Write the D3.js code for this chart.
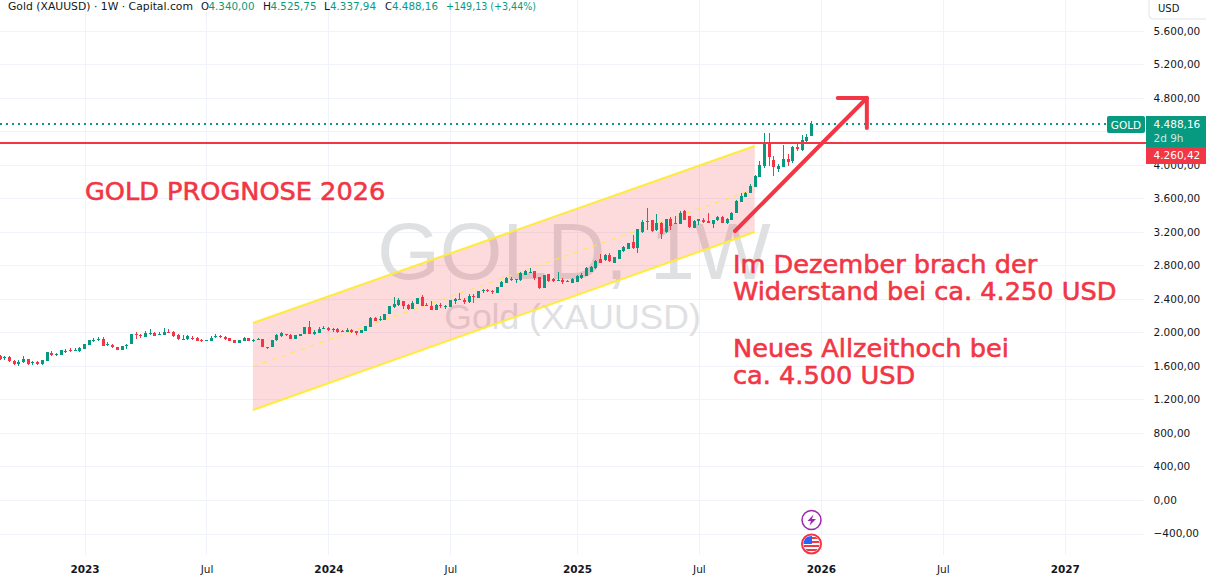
<!DOCTYPE html>
<html><head><meta charset="utf-8">
<script src="https://cdn.jsdelivr.net/npm/d3@7/dist/d3.min.js"></script>
<style>html,body{margin:0;padding:0;background:#fff;overflow:hidden}svg{display:block}</style>
</head><body><svg id="c" width="1206" height="580"></svg>
<script>
const opens=[1723,1691,1703,1659,1627,1643,1679,1635,1647,1619,1659,1751,1731,1727,1775,1791,1779,1775,1799,1847,1907,1911,1919,1855,1847,1823,1787,1847,1859,1983,1971,1943,1979,1991,1971,1967,1999,2003,1967,1919,1919,1939,1939,1907,1907,1903,1951,1959,1943,1931,1907,1871,1895,1931,
1892,1912,1916,1828,1820,1904,1952,1984,1972,1916,1952,1976,2060,1984,1988,2036,2048,2024,2036,2012,2000,2024,2012,1988,2012,2060,2168,2144,2144,2216,2300,2324,2372,2324,2276,2336,2420,2324,2312,2264,2324,2300,2300,2372,2404,2384,2360,2440,2408,2492,2504,
2490,2474,2546,2594,2642,2630,2626,2690,2718,2730,2666,2534,2694,2638,2618,2630,2618,2594,2606,2650,2678,2726,2766,2870,2858,2918,2834,2870,2970,2990,3074,3006,3198,3326,3338,3218,3310,3198,3350,3290,3290,3446,3386,3250,3326,
3343,3327,3295,3339,3379,3307,3343,3427,3559,3619,3667,3739,3859,3991,4243,4063,3955,3979,4075,4051,4207,4171,4279,4340];
const highs=[1731,1715,1723,1671,1667,1715,1687,1659,1655,1667,1763,1775,1755,1787,1803,1811,1811,1823,1859,1907,1935,1943,1943,1883,1859,1831,1843,1859,1979,2007,1983,2011,2039,2003,1999,2051,2039,2015,1979,1967,1967,1955,1943,1919,1915,1951,1979,1967,1955,1931,1907,1907,1943,1931,
1916,1928,1916,1828,1912,1984,2000,1984,1976,1964,1984,2060,2132,2024,2060,2072,2060,2048,2048,2024,2048,2036,2012,2024,2072,2180,2180,2192,2216,2312,2420,2408,2372,2336,2372,2408,2444,2348,2372,2336,2348,2324,2384,2408,2468,2408,2456,2456,2492,2516,2516,
2510,2538,2618,2666,2658,2638,2718,2746,2774,2738,2666,2690,2698,2646,2718,2650,2630,2646,2686,2706,2778,2798,2866,2930,2938,2942,2902,2978,3030,3070,3158,3238,3346,3490,3346,3418,3318,3358,3378,3386,3446,3458,3394,3346,3358,
3363,3427,3339,3391,3391,3367,3439,3583,3667,3679,3775,3883,4051,4375,4375,4099,4015,4231,4123,4219,4243,4351,4363,4525.75];
const lows=[1675,1675,1643,1615,1595,1635,1615,1611,1615,1607,1659,1723,1715,1727,1755,1763,1775,1771,1799,1847,1887,1895,1835,1835,1811,1787,1787,1803,1859,1919,1931,1943,1967,1955,1967,1967,1991,1947,1915,1919,1915,1907,1895,1883,1899,1895,1931,1931,1915,1895,1871,1871,1895,1895,
1880,1904,1820,1796,1820,1892,1940,1952,1916,1916,1952,1976,1976,1964,1988,2036,2012,2000,1988,2000,2000,1996,1964,1988,2012,2060,2132,2132,2144,2216,2288,2312,2276,2264,2276,2336,2312,2312,2264,2264,2288,2276,2300,2336,2384,2336,2348,2348,2408,2468,2480,
2458,2474,2538,2586,2610,2586,2618,2690,2718,2626,2518,2534,2598,2598,2610,2578,2598,2586,2598,2638,2678,2718,2758,2826,2850,2838,2834,2870,2958,2990,2998,2946,3190,3218,3198,3206,3110,3190,3226,3290,3290,3338,3246,3242,3278,
3307,3307,3247,3331,3307,3295,3343,3427,3559,3619,3667,3739,3859,3967,3991,3871,3919,3979,3991,4027,4159,4159,4267,4337.94];
const closes=[1687,1703,1655,1619,1647,1679,1619,1643,1619,1667,1763,1727,1739,1787,1783,1779,1787,1811,1859,1907,1915,1919,1835,1863,1827,1787,1843,1855,1979,1975,1959,1991,1987,1955,1979,2003,1991,1955,1919,1927,1959,1931,1895,1895,1915,1939,1959,1947,1923,1895,1871,1907,1931,1895,
1904,1920,1820,1808,1912,1964,1988,1976,1916,1964,1984,2060,1976,2000,2036,2048,2024,2036,2000,2000,2024,2000,1988,2024,2072,2168,2132,2156,2216,2312,2336,2384,2312,2276,2348,2408,2312,2312,2264,2324,2312,2312,2384,2396,2392,2360,2432,2424,2492,2504,2492,
2482,2538,2606,2646,2630,2638,2706,2738,2726,2646,2530,2690,2610,2610,2630,2598,2606,2634,2674,2690,2766,2786,2850,2834,2918,2846,2902,2978,3018,3070,3006,3230,3314,3314,3210,3310,3178,3350,3266,3302,3430,3346,3254,3330,3350,
3319,3307,3339,3379,3307,3355,3427,3571,3631,3667,3751,3871,4003,4243,4087,3979,3991,4075,4039,4207,4183,4291,4327,4488.16];

const priceTicks=[-400,0,400,800,1200,1600,2000,2400,2800,3200,3600,4000,4400,4800,5200,5600];
const hiddenPriceTicks=[4400];
const timeBars=[18,44,70,96,123,149,175,201,227];
const timeLabels=["2023","Jul","2024","Jul","2025","Jul","2026","Jul","2027"];
const lastPrice=4488.16, resistance=4260.42;
const channelBars=[53.9,160.9];
const channelTop=[2112,4224];
const channelBottom=[1074,3198];
const arrowBars=[156.7,184.8];
const arrowPrices=[3210,4797];
const arrowHeadBars=[178.6,184.8,184.8];
const arrowHeadPrices=[4797,4797,4440];
const headerParts=[["Gold (XAUUSD) · 1W · Capital.com",8,"#131722",185],["O",201,"#131722",8],["4.340,00",208.5,"#089981",46],["H",263,"#131722",8],["4.525,75",270.5,"#089981",46],["L",324,"#131722",6],["4.337,94",330,"#089981",46],["C",385,"#131722",7],["4.488,16",392,"#089981",46],["+149,13 (+3,44%)",446,"#089981",90]];
const noteLines=[["GOLD PROGNOSE 2026",85,200],["Im Dezember brach der",733,273],["Widerstand bei ca. 4.250 USD",733,300],["Neues Allzeithoch bei",733,357],["ca. 4.500 USD",733,384]];

const GREEN="#089981",RED="#f23645",YEL="#ffeb3b",GRID="#f0f3fa",TXT="#131722";
const FONT="'DejaVu Sans',sans-serif";
const svg=d3.select("#c");
const paneR=1144,paneB=555;
const x=d3.scaleLinear().domain([0,173]).range([0.13,811.5]);
const y=d3.scaleLinear().domain([0,5600]).range([500,30.7]);
const de=d3.formatLocale({decimal:",",thousands:".",grouping:[3],currency:["","$"]});
const fmt=de.format(",.2f");

svg.append("g").selectAll("line").data(priceTicks).join("line")
 .attr("x1",0).attr("x2",paneR).attr("y1",d=>Math.round(y(d))+.5).attr("y2",d=>Math.round(y(d))+.5)
 .attr("stroke",GRID).attr("stroke-width",1);
svg.append("g").selectAll("line").data(timeBars).join("line")
 .attr("x1",d=>Math.round(x(d))+.5).attr("x2",d=>Math.round(x(d))+.5).attr("y1",0).attr("y2",paneB)
 .attr("stroke",GRID);

// watermark
svg.append("text").text("GOLD, 1W").attr("x",574).attr("y",279).attr("text-anchor","middle")
 .attr("font-family","'Liberation Sans',sans-serif").attr("font-size",80.5).attr("fill","#dfe0e2");
svg.append("text").text("Gold (XAUUSD)").attr("x",572.5).attr("y",329).attr("text-anchor","middle")
 .attr("font-family","'Liberation Sans',sans-serif").attr("font-size",35.5).attr("fill","#dfe0e2");

// channel
const area=d3.area().x(d=>x(d.b)).y0(d=>y(d.lo)).y1(d=>y(d.hi));
const ch=channelBars.map((b,i)=>({b,hi:channelTop[i],lo:channelBottom[i]}));
svg.append("path").attr("d",area(ch)).attr("fill",RED).attr("fill-opacity",.18);
const ln=d3.line().x(d=>x(d[0])).y(d=>y(d[1]));
svg.append("path").attr("d",ln(channelBars.map((b,i)=>[b,channelTop[i]]))).attr("stroke",YEL).attr("stroke-width",2).attr("fill","none");
svg.append("path").attr("d",ln(channelBars.map((b,i)=>[b,channelBottom[i]]))).attr("stroke",YEL).attr("stroke-width",2).attr("fill","none");
svg.append("path").attr("d",ln(channelBars.map((b,i)=>[b,(channelTop[i]+channelBottom[i])/2]))).attr("stroke",YEL).attr("stroke-width",1).attr("stroke-dasharray","5 5").attr("fill","none");

// candles
const g=svg.append("g").attr("shape-rendering","crispEdges");
const idx=d3.range(closes.length);
g.selectAll("line").data(idx).join("line")
 .attr("x1",i=>Math.round(x(i)-.5)+.5).attr("x2",i=>Math.round(x(i)-.5)+.5)
 .attr("y1",i=>y(highs[i])).attr("y2",i=>y(lows[i]))
 .attr("stroke",i=>closes[i]>=opens[i]?GREEN:RED);
g.selectAll("rect").data(idx).join("rect")
 .attr("x",i=>Math.round(x(i)-.5)-1).attr("width",3)
 .attr("y",i=>y(Math.max(opens[i],closes[i])))
 .attr("height",i=>Math.max(1,Math.abs(y(opens[i])-y(closes[i]))))
 .attr("fill",i=>closes[i]>=opens[i]?GREEN:RED);

// price lines
svg.append("line").attr("x1",0).attr("x2",paneR+2).attr("y1",y(resistance)).attr("y2",y(resistance)).attr("stroke",RED).attr("stroke-width",2);
svg.append("line").attr("x1",0).attr("x2",1107).attr("y1",y(lastPrice)).attr("y2",y(lastPrice)).attr("stroke",GREEN).attr("stroke-width",2).attr("stroke-dasharray","2 4");

// arrow
svg.append("path").attr("d",ln(arrowBars.map((b,i)=>[b,arrowPrices[i]]))).attr("stroke",RED).attr("stroke-width",4).attr("stroke-linecap","round").attr("fill","none");
svg.append("path").attr("d",ln(arrowHeadBars.map((b,i)=>[b,arrowHeadPrices[i]]))).attr("stroke",RED).attr("stroke-width",4).attr("stroke-linecap","round").attr("stroke-linejoin","round").attr("fill","none");

// notes
svg.append("g").selectAll("text").data(noteLines).join("text")
 .text(d=>d[0]).attr("x",d=>d[1]).attr("y",d=>d[2])
 .attr("font-family",FONT).attr("font-size",25.6).attr("fill",RED)
 .attr("stroke",RED).attr("stroke-width",.6);

// header
svg.append("g").selectAll("text").data(headerParts).join("text")
 .text(d=>d[0]).attr("x",d=>d[1]).attr("y",10).attr("fill",d=>d[2])
 .attr("font-family",FONT).attr("font-size",10.5)
 .attr("textLength",d=>d[3]).attr("lengthAdjust","spacingAndGlyphs");

// right axis
const axis=svg.append("g").attr("transform",`translate(1153.5,0)`)
 .call(d3.axisRight(y).tickValues(priceTicks.filter(t=>!hiddenPriceTicks.includes(t))).tickSize(0).tickPadding(0).tickFormat(fmt));
axis.select(".domain").remove();
axis.selectAll("text").attr("font-family",FONT).attr("font-size",10.5).attr("fill",TXT);

// USD box
svg.append("path").attr("d","M1149,0V15a4,4 0 0 0 4,4H1206").attr("fill","#fff").attr("stroke","#e0e3eb");
svg.append("text").text("USD").attr("x",1158).attr("y",12).attr("font-family",FONT).attr("font-size",10).attr("fill",TXT);

// tags
svg.append("rect").attr("x",1107).attr("y",116).attr("width",38).attr("height",17).attr("rx",2).attr("fill",GREEN);
svg.append("text").text("GOLD").attr("x",1126).attr("y",129).attr("text-anchor","middle").attr("font-family",FONT).attr("font-size",10.5).attr("fill","#fff");
svg.append("rect").attr("x",1146).attr("y",116).attr("width",60).attr("height",31).attr("fill",GREEN);
svg.append("text").text(fmt(lastPrice)).attr("x",1153.5).attr("y",128).attr("font-family",FONT).attr("font-size",10.5).attr("fill","#fff");
svg.append("text").text("2d 9h").attr("x",1153.5).attr("y",142).attr("font-family",FONT).attr("font-size",10.5).attr("fill","#fff").attr("fill-opacity",.8);
svg.append("rect").attr("x",1146).attr("y",147).attr("width",60).attr("height",17).attr("fill",RED);
svg.append("text").text(fmt(resistance)).attr("x",1153.5).attr("y",159).attr("font-family",FONT).attr("font-size",10.5).attr("fill","#fff");

// time labels
const timeAxis=svg.append("g").attr("transform",`translate(0,${570})`)
 .call(d3.axisBottom(x).tickValues(timeBars).tickSize(0).tickPadding(0).tickFormat((d,i)=>timeLabels[i]));
timeAxis.select(".domain").remove();
timeAxis.selectAll("text").attr("font-family",FONT).attr("font-size",10.5).attr("fill",TXT)
 .attr("font-weight",(d,i)=>timeLabels[i]==="Jul"?400:700).attr("dy",".32em");

// event icons
svg.append("circle").attr("cx",811.5).attr("cy",520).attr("r",9.5).attr("fill","#fff").attr("stroke","#9c27b0").attr("stroke-width",1.5);
svg.append("path").attr("d","M813.5,514.5L807.5,521H811L809.5,525.5L816,519H812Z").attr("fill","#9c27b0");
const defs=svg.append("defs");
defs.append("clipPath").attr("id","fl").append("circle").attr("cx",811.5).attr("cy",544).attr("r",8);
svg.append("circle").attr("cx",811.5).attr("cy",544).attr("r",9.5).attr("fill","#fff").attr("stroke",RED).attr("stroke-width",2);
const fg=svg.append("g").attr("clip-path","url(#fl)");
[0,1,2,3].forEach(k=>fg.append("rect").attr("x",803).attr("y",537+k*4).attr("width",17).attr("height",2).attr("fill",RED));
fg.append("rect").attr("x",803).attr("y",536).attr("width",9).attr("height",8).attr("fill","#2962ff");
</script></body></html>
